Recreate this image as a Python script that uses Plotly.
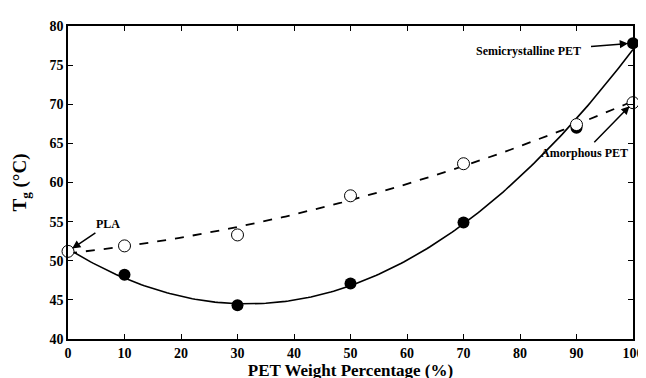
import numpy as np
import plotly.graph_objects as go

# Data
semi_x = [0, 10, 30, 50, 70, 90, 100]
semi_y = [51.2, 48.2, 44.3, 47.1, 54.9, 67.0, 77.8]
amor_x = [0, 10, 30, 50, 70, 90, 100]
amor_y = [51.2, 51.9, 53.3, 58.3, 62.4, 67.4, 70.2]
x_ticks = [0, 10, 20, 30, 40, 50, 60, 70, 80, 90, 100]
y_ticks = [40, 45, 50, 55, 60, 65, 70, 75, 80]

FONT = "Liberation Serif"

xs = np.linspace(0, 100, 201)
semi_fit = np.polyval(np.polyfit(semi_x, semi_y, 2), xs)
amor_fit = np.polyval(np.polyfit(amor_x, amor_y, 2), xs)

fig = go.Figure()
fig.add_trace(go.Scatter(x=xs, y=semi_fit, mode="lines",
                         line=dict(color="black", width=1.6), showlegend=False))
fig.add_trace(go.Scatter(x=xs, y=amor_fit, mode="lines",
                         line=dict(color="black", width=1.8, dash="dash"), showlegend=False))
fig.add_trace(go.Scatter(x=semi_x[1:], y=semi_y[1:], mode="markers",
                         marker=dict(color="black", size=12), showlegend=False, cliponaxis=False))
fig.add_trace(go.Scatter(x=amor_x, y=amor_y, mode="markers",
                         marker=dict(color="white", size=12, line=dict(color="black", width=1)),
                         showlegend=False, cliponaxis=False))

ann_font = dict(family=FONT, size=12, color="black")
arrow = dict(showarrow=True, arrowhead=2, arrowsize=1.1, arrowwidth=1.5,
             arrowcolor="black", standoff=5, font=ann_font)

fig.add_annotation(x=0, y=semi_y[0], ax=40, ay=-27, text="<b>PLA</b>", **arrow)
fig.add_annotation(x=100, y=semi_y[-1], ax=-105, ay=8,
                   text="<b>Semicrystalline PET</b>", borderpad=10, **arrow)
fig.add_annotation(x=100, y=amor_y[-1], ax=-49, ay=50,
                   text="<b>Amorphous PET</b>", borderpad=3, **arrow)

axis_common = dict(showgrid=False, zeroline=False, showline=True, linecolor="black",
                   linewidth=1.5, mirror="ticks", ticks="inside", ticklen=5,
                   tickcolor="black", tickwidth=1.2,
                   tickfont=dict(family=FONT, size=14, color="black"))

fig.update_layout(
    width=646, height=378,
    margin=dict(l=60, r=10, t=18, b=44),
    plot_bgcolor="white", paper_bgcolor="white",
    xaxis=dict(range=[0, 100], tickvals=x_ticks,
               ticktext=[f"<b>{v}</b>" for v in x_ticks],
               title=dict(text="<b>PET Weight Percentage (%)</b>",
                          font=dict(family=FONT, size=17, color="black"), standoff=4),
               **axis_common),
    yaxis=dict(range=[40, 80], tickvals=y_ticks,
               ticktext=[f"<b>{v}</b>" for v in y_ticks],
               title=dict(text="<b>T<sub>g</sub> (°C)</b>",
                          font=dict(family=FONT, size=19, color="black"), standoff=18),
               **axis_common),
)

fig.write_html("out.html")
